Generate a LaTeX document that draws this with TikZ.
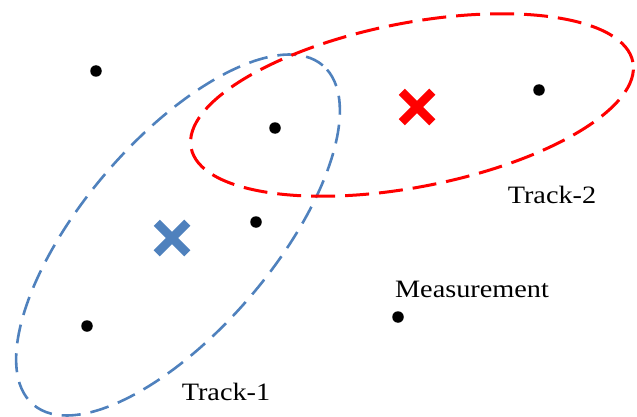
\documentclass[tikz,border=0pt]{standalone}
\usepackage{fontspec}
\setmainfont[FakeStretch=1.13]{Liberation Serif}
\usepackage{tikz}
\usetikzlibrary{shapes.misc}
\definecolor{trackblue}{RGB}{79,129,189}
\tikzset{meas/.style={circle, fill=black, inner sep=0pt, minimum size=11.5pt},
  gate/.style={dash pattern=on 19pt off 10pt, line width=2.6pt},
  redgate/.style={dash pattern=on 24pt off 10pt, line width=3pt},
  est/.style={cross out, draw, line width=8.5pt, minimum size=22pt, inner sep=0pt},
  lbl/.style={anchor=base, font=\fontsize{25}{30}\selectfont, inner sep=0pt}}

\begin{document}
\begin{tikzpicture}[x=1pt,y=1pt]
	\useasboundingbox (0,0) rectangle (637,416);
	% gates of the two tracks
	\draw[gate, trackblue] (178,181) ellipse[x radius=223, y radius=95, rotate=49.5];
	\draw[redgate, red] (412,311) ellipse[x radius=225, y radius=82, rotate=11];
	% predicted positions
	\node[est, trackblue] (trk1) at (172,178) {};
	\node[est, red] (trk2) at (417,309) {};
	% measurements
	\node[meas] (z1) at (96,345) {};
	\node[meas] (z2) at (275,288) {};
	\node[meas] (z3) at (539,326) {};
	\node[meas] (z4) at (256,194) {};
	\node[meas] (z5) at (87,90) {};
	\node[meas] (z6) at (398,99) {};
	\node[lbl] (lab1) at (226,16) {Track-1};
	\node[lbl] (lab2) at (552,213) {Track-2};
	\node[lbl] (lab3) at (472,119) {Measurement};
\end{tikzpicture}
\end{document}
